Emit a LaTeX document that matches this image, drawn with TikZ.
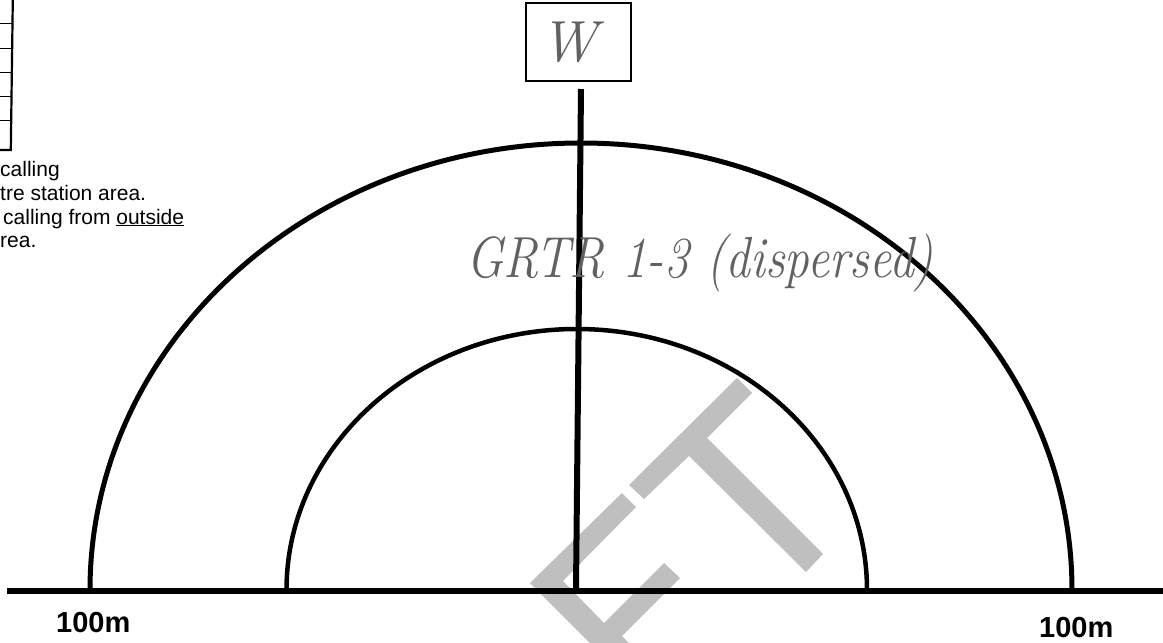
\documentclass[tikz,border=0pt]{standalone}
\usepackage{fontspec}
\usepackage{graphicx}
\setsansfont{Liberation Sans}
\tikzset{
  inkline/.style={draw=black,line width=#1},
  printed/.style={font=\sffamily\fontsize{21}{24}\selectfont,anchor=base west,inner sep=0pt,text=black},
  distlabel/.style={font=\sffamily\bfseries\fontsize{29}{32}\selectfont,anchor=base west,inner sep=0pt},
  handwrit/.style={text=black!62,inner sep=0pt},
  stamp/.style={fill=black!25,draw=none}
}
\begin{document}
\begin{tikzpicture}[x=1pt,y=-1pt]
\useasboundingbox (0,0) rectangle (1163,643);
\clip (0,0) rectangle (1163,643);
% watermark
\fill[stamp] (737,378)--(752,393)--(707,438)--(823,554)--(806,572)--(689,456)--(644,499)--(629,485)--cycle;
\fill[stamp] (622,493)--(636,507)--(563,581)--(604,623)--(664,563)--(680,578)--(622,636)--(629,643)--(590,643)--(530,583)--cycle;
% table fragment
\draw[inkline=2.2pt] (12.8,0)--(10.8,150)--(0,150);
\foreach \yy/\xx in {23/12,48/12,72/11.5,96/11,120/11}{\draw[inkline=.8pt] (0,\yy)--(\xx,\yy);}
% printed notes
\node[printed] (n1) at (0,176) {calling};
\node[printed] (n2) at (0,200) {tre station area.};
\node[printed] (n3) at (3,224) {calling from \underline{outside}};
\node[printed] (n4) at (0,247) {rea.};
% arcs
\coordinate (oL) at (90,590); \coordinate (oR) at (1072,590);
\coordinate (iL) at (286.5,590); \coordinate (iR) at (867,590);
\draw[inkline=5pt] (oL) arc[start angle=180,end angle=0,x radius=491,y radius=-447];
\draw[inkline=4.5pt] (iL) arc[start angle=180,end angle=0,x radius=290.25,y radius=-261];
% ground and W box
\coordinate (gL) at (7,591); \coordinate (gR) at (1163,591);
\draw[inkline=5.5pt] (gL)--(gR);
\node[draw=black,line width=2.8pt,minimum width=105pt,minimum height=78pt,inner sep=0pt,font=\itshape\fontsize{58}{60}\selectfont,text=black!62] (w) at (578.5,42) {\hspace*{-10pt}W\hspace*{10pt}};
\coordinate (vT) at (581,89); \coordinate (vB) at (576,589);
\draw[inkline=6pt] (vT)--(vB);
% handwriting
\node[handwrit,font=\itshape\fontsize{58}{60}\selectfont,anchor=base] (h) at (700,277) {\scalebox{.85}[1]{GRTR 1-3 (dispersed)}};
% labels
\node[distlabel] (l) at (56,632) {100m};
\node[distlabel] (r) at (1039,637) {100m};
\end{tikzpicture}
\end{document}
